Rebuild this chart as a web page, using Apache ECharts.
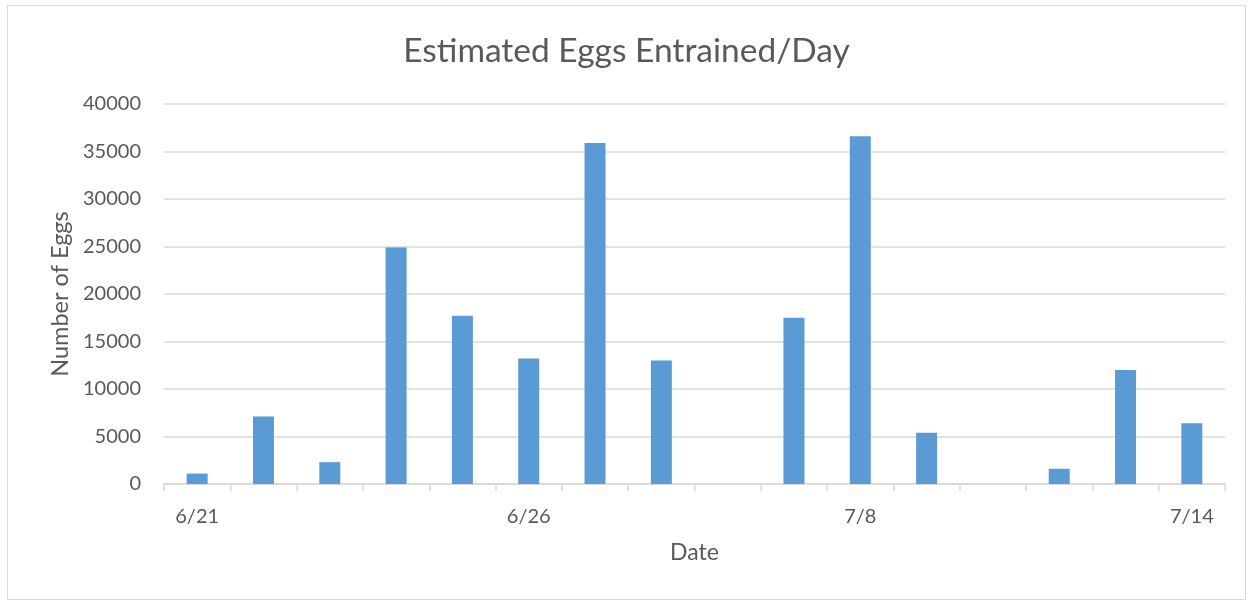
<!DOCTYPE html>
<html>
<head>
<meta charset="utf-8">
<script src="https://cdn.jsdelivr.net/npm/echarts@6/dist/echarts.min.js"></script>
<style>html,body{margin:0;padding:0;background:#fff;}#c{width:1253px;height:605px;}</style>
</head>
<body>
<div id="c"></div>
<script>
var categories = ['6/21','6/22','6/23','6/24','6/25','6/26','6/27','6/28','6/29','7/7','7/8','7/9','7/10','7/12','7/13','7/14'];
var eggs = [1100, 7100, 2300, 24900, 17700, 13200, 35900, 13000, null, 17500, 36600, 5400, null, 1600, 12000, 6400];
var yTicks = {min: 0, max: 40000, interval: 5000};

var FONT = 'Lato';
var TXT = '#595959';
var chart = echarts.init(document.getElementById('c'), null, {renderer: 'canvas'});
chart.setOption({
  animation: false,
  backgroundColor: '#fff',
  graphic: [{
    type: 'rect', shape: {x: 7.5, y: 5.5, width: 1238, height: 594},
    style: {fill: 'none', stroke: '#d9d9d9', lineWidth: 1}, silent: true, z: -1
  }],
  title: {
    text: 'Estimated Eggs Entrained/Day', left: 'center', top: 29,
    textStyle: {fontFamily: FONT, fontSize: 33.5, fontWeight: 'normal', color: TXT}
  },
  grid: {left: 164, right: 28, top: 104, bottom: 121, containLabel: false},
  xAxis: {
    type: 'category', data: categories,
    name: 'Date', nameLocation: 'middle', nameGap: 57,
    nameTextStyle: {fontFamily: FONT, fontSize: 23, color: TXT},
    axisLine: {lineStyle: {color: '#d9d9d9', width: 1.5}},
    axisTick: {show: true, alignWithLabel: false, interval: 0, length: 7, lineStyle: {color: '#d9d9d9', width: 1.5}},
    axisLabel: {interval: 4, fontFamily: FONT, fontSize: 20, color: TXT, margin: 23}
  },
  yAxis: {
    type: 'value', min: yTicks.min, max: yTicks.max, interval: yTicks.interval,
    name: 'Number of Eggs', nameLocation: 'middle', nameGap: 92, nameRotate: 90,
    nameTextStyle: {fontFamily: FONT, fontSize: 23.5, color: TXT},
    axisLine: {show: false}, axisTick: {show: false},
    splitLine: {lineStyle: {color: '#d9d9d9', width: 1.5}},
    axisLabel: {fontFamily: FONT, fontSize: 20, color: TXT, margin: 23,
      formatter: function (v) { return String(v); }}
  },
  series: [{
    type: 'bar', data: eggs, barWidth: 21,
    itemStyle: {color: '#5b9bd5'}
  }]
});
</script>
</body>
</html>
